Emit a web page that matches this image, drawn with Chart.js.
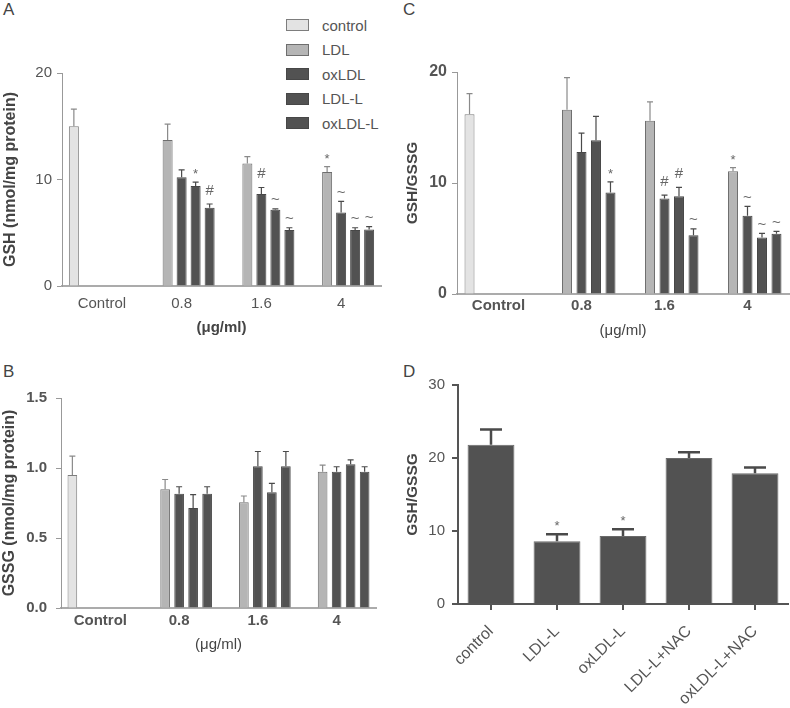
<!DOCTYPE html>
<html>
<head>
<meta charset="utf-8">
<script src="https://cdn.jsdelivr.net/npm/chart.js@4.4.1/dist/chart.umd.min.js"></script>
<style>
  body { margin: 0; background: #fff; width: 790px; height: 708px; overflow: hidden; position: relative;
         font-family: "Liberation Sans", Arial, sans-serif; }
  canvas { position: absolute; }
  .letter { position: absolute; font-size: 17px; color: #444; }
  #legend { position: absolute; left: 286px; top: 13px; font-size: 15px; color: #555; }
  #legend .row { height: 24.5px; display: flex; align-items: center; }
  #legend .box { width: 21px; height: 10px; margin-right: 13px; }
</style>
</head>
<body>
<div class="letter" style="left:3px;top:0px">A</div>
<div class="letter" style="left:403px;top:0px">C</div>
<div class="letter" style="left:3px;top:362px">B</div>
<div class="letter" style="left:403px;top:362px">D</div>
<div id="legend"></div>

<canvas id="chartA" width="400" height="350" style="left:0;top:0"></canvas>
<canvas id="chartC" width="390" height="350" style="left:400px;top:0"></canvas>
<canvas id="chartB" width="400" height="310" style="left:0;top:350px"></canvas>
<canvas id="chartD" width="390" height="358" style="left:400px;top:350px"></canvas>

<script>
// Dados
const doseLabels = ['Control', '0.8', '1.6', '4'];
const seriesNames = ['control', 'LDL', 'oxLDL', 'LDL-L', 'oxLDL-L'];

// A - GSH (nmol/mg protein)
const gshControl = [15.0, null, null, null];
const gshLDL     = [null, 13.7, 11.5, 10.7];
const gshOxLDL   = [null, 10.2, 8.65, 6.9];
const gshLDLL    = [null, 9.4, 7.15, 5.25];
const gshOxLDLL  = [null, 7.35, 5.25, 5.3];
const gshErrControl = [1.6, null, null, null];
const gshErrLDL     = [null, 1.5, 0.65, 0.5];
const gshErrOxLDL   = [null, 0.7, 0.6, 1.05];
const gshErrLDLL    = [null, 0.35, 0.1, 0.22];
const gshErrOxLDLL  = [null, 0.35, 0.22, 0.28];
const gshMarks = [
  ['', '', '', ''],
  ['', '', '', '*'],
  ['', '', '#', '~'],
  ['', '*', '~', '~'],
  ['', '#', '~', '~']
];

// B - GSSG (nmol/mg protein)
const gssgControl = [0.95, null, null, null];
const gssgLDL     = [null, 0.848, 0.755, 0.973];
const gssgOxLDL   = [null, 0.816, 1.013, 0.973];
const gssgLDLL    = [null, 0.714, 0.826, 1.026];
const gssgOxLDLL  = [null, 0.816, 1.013, 0.973];
const gssgErrControl = [0.135, null, null, null];
const gssgErrLDL     = [null, 0.07, 0.045, 0.047];
const gssgErrOxLDL   = [null, 0.05, 0.105, 0.036];
const gssgErrLDLL    = [null, 0.096, 0.064, 0.032];
const gssgErrOxLDLL  = [null, 0.05, 0.105, 0.036];

// C - GSH/GSSG
const ratioControl = [16.2, null, null, null];
const ratioLDL     = [null, 16.6, 15.6, 11.05];
const ratioOxLDL   = [null, 12.8, 8.6, 7.05];
const ratioLDLL    = [null, 13.85, 8.8, 5.1];
const ratioOxLDLL  = [null, 9.15, 5.3, 5.43];
const ratioErrControl = [1.85, null, null, null];
const ratioErrLDL     = [null, 2.9, 1.7, 0.33];
const ratioErrOxLDL   = [null, 1.7, 0.3, 0.85];
const ratioErrLDLL    = [null, 2.15, 0.8, 0.37];
const ratioErrOxLDLL  = [null, 0.95, 0.56, 0.22];
const ratioMarks = [
  ['', '', '', ''],
  ['', '', '', '*'],
  ['', '', '#', '~'],
  ['', '', '#', '~'],
  ['', '*', '~', '~']
];

// D - GSH/GSSG com NAC
const nacLabels = ['control', 'LDL-L', 'oxLDL-L', 'LDL-L+NAC', 'oxLDL-L+NAC'];
const nacValues = [21.8, 8.6, 9.3, 20.0, 17.9];
const nacErrors = [2.1, 0.95, 0.95, 0.8, 0.8];
const nacMarks  = ['', '*', '*', '', ''];

// Estilos
const FONT = '"Liberation Sans", Arial, sans-serif';
const FILLS   = ['#e3e3e3', '#b5b5b5', '#525252', '#525252', '#525252'];
const BORDERS = ['#7d7d7d', '#6e6e6e', '#474747', '#474747', '#474747'];
const ERRCOL  = ['#8a8a8a', '#8a8a8a', '#4a4a4a', '#4a4a4a', '#4a4a4a'];
const MARK_GAP = { '*': 4, '#': 9, '~': 4.5 };

Chart.defaults.font.family = FONT;
Chart.defaults.color = '#555';

// Barras de erro + marcas de significância
const errorBarPlugin = {
  id: 'errBars',
  afterDatasetsDraw(chart, args, opts) {
    const ctx = chart.ctx;
    const yScale = chart.scales.y;
    chart.data.datasets.forEach((ds, d) => {
      const meta = chart.getDatasetMeta(d);
      meta.data.forEach((bar, i) => {
        const v = ds.data[i];
        const e = ds.errors ? ds.errors[i] : null;
        if (v == null || e == null) return;
        const top = yScale.getPixelForValue(v + e);
        ctx.save();
        ctx.strokeStyle = ds.errColor;
        ctx.lineWidth = opts.lineWidth;
        ctx.beginPath();
        ctx.moveTo(bar.x, bar.y);
        ctx.lineTo(bar.x, top);
        ctx.moveTo(bar.x - opts.cap / 2, top);
        ctx.lineTo(bar.x + opts.cap / 2, top);
        ctx.stroke();
        const mark = ds.marks ? ds.marks[i] : '';
        if (mark) {
          ctx.fillStyle = '#666';
          ctx.font = (mark === '*' ? 13 : 15) + 'px ' + FONT;
          ctx.textAlign = 'center';
          ctx.textBaseline = 'alphabetic';
          ctx.fillText(mark, bar.x, top - MARK_GAP[mark]);
        }
        ctx.restore();
      });
    });
  }
};

function groupedDatasets(values, errors, marks, p) {
  return seriesNames.map((name, k) => ({
    label: name,
    data: values[k],
    errors: errors[k],
    marks: marks ? marks[k] : null,
    backgroundColor: FILLS[k],
    borderColor: BORDERS[k],
    errColor: ERRCOL[k],
    borderWidth: 1,
    barPercentage: p.barPct,
    categoryPercentage: p.catPct
  }));
}

function groupedOptions(p) {
  return {
    responsive: false,
    animation: false,
    layout: { padding: { top: p.top, right: p.right, left: 0, bottom: 0 } },
    plugins: {
      legend: { display: false },
      tooltip: { enabled: false },
      errBars: { lineWidth: 1.2, cap: 6 }
    },
    scales: {
      x: {
        grid: { display: true, drawOnChartArea: false, drawTicks: false },
        border: { color: '#ababab', width: 2 },
        ticks: { color: '#555', font: { size: 15, weight: p.tickBold ? 'bold' : 'normal' }, padding: p.xPad },
        title: {
          display: true, text: '(\u03bcg/ml)', color: '#444',
          font: { size: 15, weight: p.unitBold ? 'bold' : 'normal' },
          padding: { top: 0, bottom: p.unitPad }
        },
        afterFit: s => { s.height = p.xH; }
      },
      y: {
        min: 0, max: p.max,
        ticks: {
          stepSize: p.step, color: '#555', padding: p.yPad,
          font: { size: p.yTickSize, weight: p.tickBold ? 'bold' : 'normal' },
          callback: v => p.decimals ? v.toFixed(p.decimals) : v
        },
        grid: { drawOnChartArea: false, tickLength: 5, color: '#999' },
        border: { color: '#999', width: 1 },
        title: {
          display: true, text: p.yTitle, color: '#444',
          font: { size: p.yTitleSize, weight: 'bold' }, padding: { top: p.titlePad, bottom: 0 }
        },
        afterFit: s => { s.width = p.yW; }
      }
    }
  };
}

// Painel A
new Chart(document.getElementById('chartA'), {
  type: 'bar',
  data: {
    labels: doseLabels,
    datasets: groupedDatasets(
      [gshControl, gshLDL, gshOxLDL, gshLDLL, gshOxLDLL],
      [gshErrControl, gshErrLDL, gshErrOxLDL, gshErrLDLL, gshErrOxLDLL],
      gshMarks, { barPct: 0.714, catPct: 0.878 })
  },
  options: groupedOptions({
    top: 73, right: 19, xH: 64, yW: 62, max: 20, step: 10, yTickSize: 15,
    tickBold: false, unitBold: true, xPad: 9, unitPad: 13, yPad: 5, titlePad: 1,
    yTitle: 'GSH (nmol/mg protein)', yTitleSize: 16
  }),
  plugins: [errorBarPlugin]
});

// Painel C
new Chart(document.getElementById('chartC'), {
  type: 'bar',
  data: {
    labels: doseLabels,
    datasets: groupedDatasets(
      [ratioControl, ratioLDL, ratioOxLDL, ratioLDLL, ratioOxLDLL],
      [ratioErrControl, ratioErrLDL, ratioErrOxLDL, ratioErrLDLL, ratioErrOxLDLL],
      ratioMarks, { barPct: 0.69, catPct: 0.873 })
  },
  options: groupedOptions({
    top: 72, right: 1, xH: 56, yW: 57, max: 20, step: 10, yTickSize: 16,
    tickBold: true, unitBold: false, xPad: 3, unitPad: 10, yPad: 5, titlePad: 3,
    yTitle: 'GSH/GSSG', yTitleSize: 15.5
  }),
  plugins: [errorBarPlugin]
});

// Painel B
new Chart(document.getElementById('chartB'), {
  type: 'bar',
  data: {
    labels: doseLabels,
    datasets: groupedDatasets(
      [gssgControl, gssgLDL, gssgOxLDL, gssgLDLL, gssgOxLDLL],
      [gssgErrControl, gssgErrLDL, gssgErrOxLDL, gssgErrLDLL, gssgErrOxLDLL],
      null, { barPct: 0.69, catPct: 0.889 })
  },
  options: groupedOptions({
    top: 48, right: 24, xH: 52, yW: 61, max: 1.5, step: 0.5, yTickSize: 15, decimals: 1,
    tickBold: true, unitBold: false, xPad: 4, unitPad: 6, yPad: 9, titlePad: 0,
    yTitle: 'GSSG (nmol/mg protein)', yTitleSize: 16
  }),
  plugins: [errorBarPlugin]
});

// Painel D
new Chart(document.getElementById('chartD'), {
  type: 'bar',
  data: {
    labels: nacLabels,
    datasets: [{
      label: 'GSH/GSSG',
      data: nacValues,
      errors: nacErrors,
      marks: nacMarks,
      backgroundColor: '#525252',
      borderColor: '#6a6a6a',
      errColor: '#4a4a4a',
      borderWidth: 1,
      barPercentage: 0.71,
      categoryPercentage: 1
    }]
  },
  options: {
    responsive: false,
    animation: false,
    layout: { padding: { top: 35, right: 2, left: 0, bottom: 0 } },
    plugins: {
      legend: { display: false },
      tooltip: { enabled: false },
      errBars: { lineWidth: 2.5, cap: 22 }
    },
    scales: {
      x: {
        grid: { display: true, drawOnChartArea: false, offset: false, tickLength: 6, color: '#555', lineWidth: 2 },
        border: { color: '#555', width: 2 },
        ticks: { color: '#555', font: { size: 16 }, minRotation: 45, maxRotation: 45, padding: 12 },
        afterFit: s => { s.height = 104; }
      },
      y: {
        min: 0, max: 30,
        ticks: { stepSize: 10, color: '#555', font: { size: 15 }, padding: 7 },
        grid: { drawOnChartArea: false, tickLength: 6, color: '#555', lineWidth: 2 },
        border: { color: '#555', width: 2 },
        title: { display: true, text: 'GSH/GSSG', color: '#444', font: { size: 15.5, weight: 'bold' }, padding: { top: 3, bottom: 0 } },
        afterFit: s => { s.width = 58; }
      }
    }
  },
  plugins: [errorBarPlugin]
});

// Legenda (painel A)
const legend = document.getElementById('legend');
seriesNames.forEach((name, k) => {
  const row = document.createElement('div');
  row.className = 'row';
  row.innerHTML = `<span class="box" style="background:${FILLS[k]};border:1px solid ${BORDERS[k]}"></span>${name}`;
  legend.appendChild(row);
});
</script>
</body>
</html>
